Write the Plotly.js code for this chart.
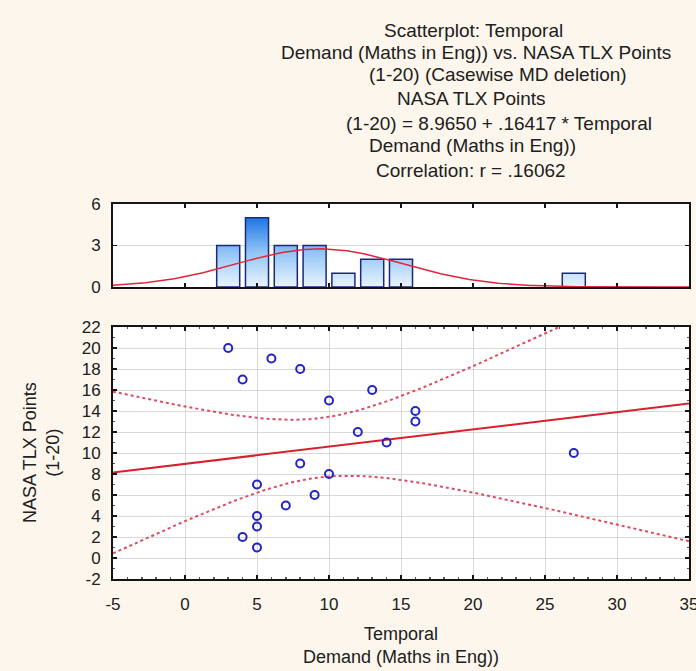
<!DOCTYPE html>
<html>
<head>
<meta charset="utf-8">
<script src="https://cdn.plot.ly/plotly-3.0.1.min.js"></script>
<style>
  html, body { margin: 0; padding: 0; background: #fcf6ec; }
  #chart { width: 696px; height: 671px; }
</style>
</head>
<body>
<div id="chart"></div>
<script>
// ---- Data ----
const tempDemand = [3, 4, 6, 8, 10, 13, 16, 16, 12, 14, 27, 8, 10, 5, 9, 7, 5, 5, 4, 5];
const tlxPoints  = [20, 17, 19, 18, 15, 16, 14, 13, 12, 11, 10, 9, 8, 7, 6, 5, 4, 3, 2, 1];
const histCenters = [3, 5, 7, 9, 11, 13, 15, 27];
const histCounts  = [3, 5, 3, 3, 1, 2, 2, 1];
const regIntercept = 8.9650;
const regSlope = 0.16417;
const xTickVals = [-5, 0, 5, 10, 15, 20, 25, 30, 35];
const xTickText = ['-5', '0', '5', '10', '15', '20', '25', '30', '35'];
const yTickVals = [-2, 0, 2, 4, 6, 8, 10, 12, 14, 16, 18, 20, 22];
const yTickText = ['-2', '0', '2', '4', '6', '8', '10', '12', '14', '16', '18', '20', '22'];
const histTickVals = [0, 3, 6];
const histTickText = ['0', '3', '6'];
const xRange = [-5, 35];
const yRange = [-2, 22];
const histRange = [0, 6];
const titleLines = [
  "Scatterplot: Temporal",
  "Demand (Maths in Eng)) vs. NASA TLX Points",
  "(1-20) (Casewise MD deletion)",
  "NASA TLX Points",
  "(1-20) = 8.9650 + .16417 * Temporal",
  "Demand (Maths in Eng))",
  "Correlation: r = .16062"
];
const xTitle = "Temporal<br>Demand (Maths in Eng))";
const yTitle = "NASA TLX Points<br>(1-20)";

// ---- Derived statistics (fits drawn by the original chart) ----
const n = tempDemand.length;
const mx = tempDemand.reduce((a, b) => a + b, 0) / n;
const my = tlxPoints.reduce((a, b) => a + b, 0) / n;
let sxx = 0, syy = 0, sxy = 0;
for (let i = 0; i < n; i++) {
  sxx += (tempDemand[i] - mx) ** 2;
  syy += (tlxPoints[i] - my) ** 2;
  sxy += (tempDemand[i] - mx) * (tlxPoints[i] - my);
}
const sdX = Math.sqrt(sxx / (n - 1));
const sRes = Math.sqrt((syy - regSlope * sxy) / (n - 2));
const tCrit = 2.1009; // t(0.975, 18)
const binWidth = 2;

const gx = [], fitY = [], upY = [], loY = [], normY = [];
for (let x = xRange[0]; x <= xRange[1] + 1e-9; x += 0.25) {
  const yh = regIntercept + regSlope * x;
  const hw = tCrit * sRes * Math.sqrt(1 / n + (x - mx) ** 2 / sxx);
  gx.push(x); fitY.push(yh); upY.push(yh + hw); loY.push(yh - hw);
  normY.push(n * binWidth * Math.exp(-0.5 * ((x - mx) / sdX) ** 2) / (sdX * Math.sqrt(2 * Math.PI)));
}

// histogram bars as closed polygons (gradient fill)
const barHalf = 0.8;
const bx = [], by = [];
histCenters.forEach((c, i) => {
  const h = histCounts[i];
  bx.push(c - barHalf, c - barHalf, c + barHalf, c + barHalf, c - barHalf, null);
  by.push(0, h, h, 0, 0, null);
});

const traces = [
  { x: bx, y: by, xaxis: 'x2', yaxis: 'y2', type: 'scatter', mode: 'lines',
    fill: 'toself', connectgaps: false,
    fillgradient: { type: 'vertical', start: 0, stop: 5,
      colorscale: [[0, '#eaf4fe'], [0.5, '#92c5f6'], [1, '#1f76e6']] },
    line: { color: '#1b2a78', width: 1.5 }, hoverinfo: 'skip', showlegend: false },
  { x: gx, y: normY, xaxis: 'x2', yaxis: 'y2', type: 'scatter', mode: 'lines',
    line: { color: '#e2243c', width: 1.5 }, showlegend: false },
  { x: gx, y: upY, type: 'scatter', mode: 'lines',
    line: { color: '#e04a5e', width: 2, dash: 'dot' }, showlegend: false },
  { x: gx, y: loY, type: 'scatter', mode: 'lines',
    line: { color: '#e04a5e', width: 2, dash: 'dot' }, showlegend: false },
  { x: gx, y: fitY, type: 'scatter', mode: 'lines',
    line: { color: '#d8202c', width: 2 }, showlegend: false },
  { x: tempDemand, y: tlxPoints, type: 'scatter', mode: 'markers',
    marker: { symbol: 'circle-open', size: 8, color: '#2424c4', line: { width: 2, color: '#2424c4' } },
    showlegend: false }
];

// layout geometry
const W = 696, H = 671;
const mL = 113, mR = 7, mT = 204, mB = 92;
const pw = W - mL - mR, ph = H - mT - mB;
const px2x = p => (p - mL) / pw;
const py2y = p => (H - mB - p) / ph;

const font = { family: 'Arial, "Liberation Sans", sans-serif', color: '#202020' };
const commonAxis = {
  showline: true, linecolor: '#141414', linewidth: 2, mirror: 'ticks',
  ticks: 'inside', ticklen: 4, tickcolor: '#141414', tickwidth: 1.5,
  zeroline: false, tickmode: 'array', ticklabeloverflow: 'allow',
  tickfont: Object.assign({ size: 17 }, font)
};

const titleCenters = [[473, 30], [476, 52], [498, 74], [471, 99], [499, 123], [472, 146], [471, 170]];
const annotations = titleLines.map((t, i) => ({
  text: t, xref: 'paper', yref: 'paper',
  x: px2x(titleCenters[i][0]), y: py2y(titleCenters[i][1]),
  xanchor: 'center', yanchor: 'middle', showarrow: false,
  font: Object.assign({ size: 19 }, font)
}));
annotations.push({
  text: xTitle, xref: 'paper', yref: 'paper', x: 0.5, y: py2y(645),
  xanchor: 'center', yanchor: 'middle', showarrow: false,
  font: Object.assign({ size: 18 }, font)
});
annotations.push({
  text: yTitle, xref: 'paper', yref: 'paper', x: px2x(41), y: py2y(453),
  xanchor: 'center', yanchor: 'middle', showarrow: false, textangle: -90,
  font: Object.assign({ size: 18 }, font)
});

const layout = {
  width: W, height: H,
  margin: { l: mL, r: mR, t: mT, b: mB, pad: 0 },
  paper_bgcolor: '#fcf6ec', plot_bgcolor: '#ffffff',
  showlegend: false,
  xaxis: Object.assign({}, commonAxis, {
    domain: [0, 1], range: xRange, tickvals: xTickVals, ticktext: xTickText, anchor: 'y',
    showgrid: true, gridcolor: '#d9d9d9', gridwidth: 1,
    ticklabelstandoff: 9,
    minor: { ticks: 'inside', ticklen: 2, dtick: 1, tick0: 0, tickcolor: '#555', showgrid: false }
  }),
  yaxis: Object.assign({}, commonAxis, {
    domain: [0, py2y(327)], range: yRange, tickvals: yTickVals, ticktext: yTickText, anchor: 'x',
    showgrid: true, gridcolor: '#d9d9d9', gridwidth: 1,
    ticklabelstandoff: 7,
    minor: { ticks: 'inside', ticklen: 2, dtick: 1, tick0: 0, tickcolor: '#555', showgrid: false }
  }),
  xaxis2: Object.assign({}, commonAxis, {
    domain: [0, 1], range: xRange, tickvals: xTickVals, ticktext: xTickText, anchor: 'y2',
    showgrid: false, showticklabels: false
  }),
  yaxis2: Object.assign({}, commonAxis, {
    domain: [py2y(287), 1], range: histRange, tickvals: histTickVals, ticktext: histTickText, anchor: 'x2',
    showgrid: true, gridcolor: '#d9d9d9', gridwidth: 1,
    ticklabelstandoff: 7
  }),
  annotations: annotations
};

Plotly.newPlot('chart', traces, layout, { displayModeBar: false, staticPlot: true });
</script>
</body>
</html>
